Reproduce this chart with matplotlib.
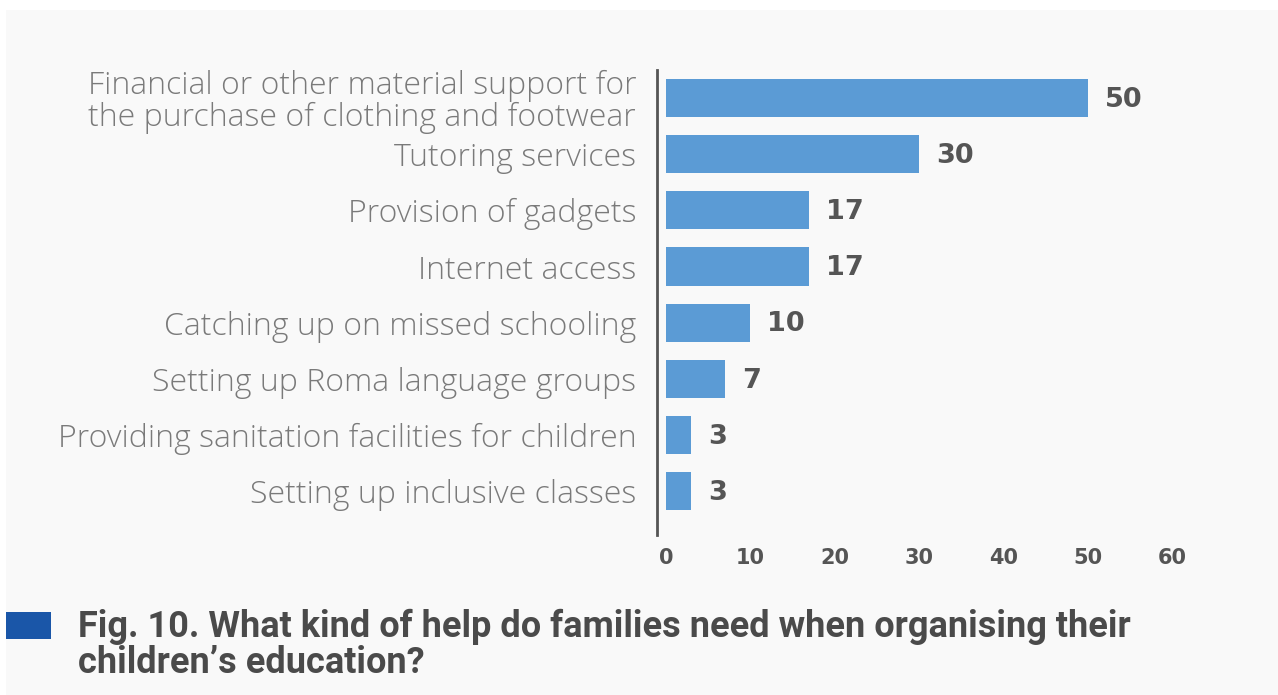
import matplotlib.pyplot as plt
from matplotlib.patches import Rectangle

# Survey answers, top to bottom
categories = [
    "Financial or other material support for\nthe purchase of clothing and footwear",
    "Tutoring services",
    "Provision of gadgets",
    "Internet access",
    "Catching up on missed schooling",
    "Setting up Roma language groups",
    "Providing sanitation facilities for children",
    "Setting up inclusive classes",
]
values = [50, 30, 17, 17, 10, 7, 3, 3]
ticks = [0, 10, 20, 30, 40, 50, 60]
caption = ("Fig. 10. What kind of help do families need when organising their\n"
           "children\u2019s education?")

bar_color = "#5b9bd5"
label_grey = "#7a7a7a"
dark_grey = "#555555"

fig = plt.figure(figsize=(12.78, 6.95), dpi=100, facecolor="white")

# light panel behind everything
fig.patches.append(Rectangle((6 / 1278, 0), 1, 1 - 10 / 695, transform=fig.transFigure,
                             facecolor="#f9f9f9", edgecolor="none", zorder=-5))

ax = fig.add_axes([657 / 1278, 1 - 535 / 695, 532 / 1278, 465 / 695])
ax.set_facecolor("none")
ax.set_zorder(2)

ypos = list(range(len(categories)))
ax.barh(ypos, values, height=0.68, color=bar_color, zorder=2)
ax.set_xlim(-1.07, 62)
ax.set_ylim(7.78, -0.5)

for y, v in zip(ypos, values):
    ax.text(v + 2.0, y + 0.03, str(v), va="center", ha="left", fontsize=19.5,
            fontweight="bold", color=dark_grey, family="DejaVu Sans")

ax.set_yticks(ypos)
ax.set_yticklabels(categories, fontsize=23, color=label_grey, family="Open Sans",
                   fontweight=300, linespacing=1.0)
for lbl in ax.get_yticklabels():
    lbl.set_horizontalalignment("right")
ax.tick_params(axis="y", length=0, pad=15)

ax.set_xticks(ticks)
ax.set_xticklabels([str(t) for t in ticks], fontsize=15, fontweight="bold",
                   color=dark_grey, family="DejaVu Sans")
ax.tick_params(axis="x", length=0, pad=9)

for side in ["top", "right", "bottom"]:
    ax.spines[side].set_visible(False)
ax.spines["left"].set_color("#555555")
ax.spines["left"].set_linewidth(2)

# caption block
fig.patches.append(Rectangle((6 / 1278, 1 - 639 / 695), 45 / 1278, 27 / 695,
                             transform=fig.transFigure, facecolor="#1a56a8",
                             edgecolor="none", zorder=1))
fig.text(78 / 1278, 1 - 609 / 695, caption, ha="left", va="top", fontsize=26,
         fontweight="bold", color="#4a4a4a", family="Roboto", linespacing=0.98)

fig.savefig("out.png", dpi=100, facecolor=fig.get_facecolor())
